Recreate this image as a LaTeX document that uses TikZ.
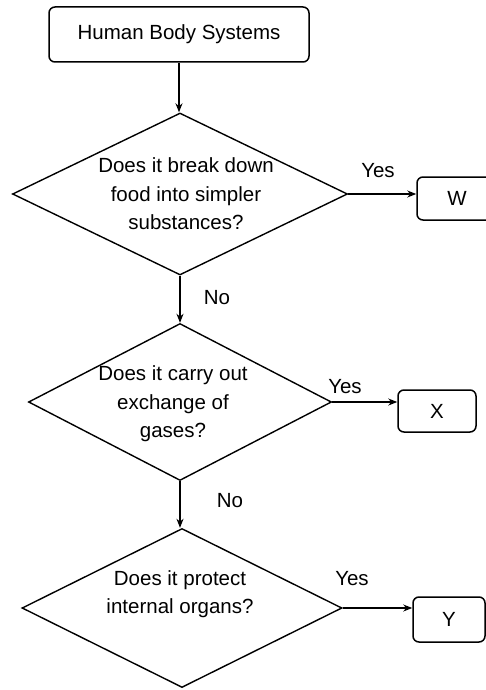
\documentclass[tikz,border=0pt]{standalone}
\usepackage{fontspec}
\setmainfont{Liberation Sans}
\usetikzlibrary{shapes.geometric,arrows.meta}
\begin{document}
\begin{tikzpicture}[x=1pt,y=-1pt,
  every node/.style={font=\fontsize{20.5}{28.5}\selectfont},
  rbox/.style={draw,line width=1.5pt,rounded corners=6pt,inner sep=0pt},
  decision/.style={draw,diamond,line width=1.4pt,inner sep=0pt},
  qtext/.style={inner sep=0pt,align=center},
  arr/.style={line width=1.3pt,-{Stealth[length=9pt,width=7pt]}},
  lbl/.style={inner sep=0pt}]
\useasboundingbox (0,0) rectangle (486,690);
\node[rbox,minimum width=260pt,minimum height=55pt] (top) at (179,34.5) {Human Body Systems};
\node[decision,minimum width=335pt,minimum height=162pt] (d1) at (180,194) {};
\node[decision,minimum width=303pt,minimum height=157pt] (d2) at (180,402) {};
\node[decision,minimum width=320pt,minimum height=159pt] (d3) at (182,608) {};
\node[qtext] (t1) at (186,194) {Does it break down\\food into simpler\\substances?};
\node[qtext] (t2) at (173,404) {Does it carry out\\exchange of\\gases?};
\node[qtext] (t3) at (180,594) {Does it protect\\internal organs?};
\node[rbox,minimum width=80pt,minimum height=43pt] (w) at (457,198.5) {W};
\node[rbox,minimum width=78pt,minimum height=42pt] (x) at (437,411) {X};
\node[rbox,minimum width=72pt,minimum height=45pt] (y) at (449,619.5) {Y};
\draw[arr] (top.south) -- (top.south |- d1.north);
\draw[arr] (d1.south) -- (d2.north);
\draw[arr] (d2.south) -- (d2.south |- d3.north);
\draw[arr] (d1.east) -- (w.west |- d1.east);
\draw[arr] (d2.east) -- (x.west |- d2.east);
\draw[arr] (d3.east) -- (y.west |- d3.east);
\node[lbl] (yes1) at (378,171) {Yes};
\node[lbl] (no1) at (217,298) {No};
\node[lbl] (yes2) at (345,387) {Yes};
\node[lbl] (no2) at (230,501) {No};
\node[lbl] (yes3) at (352,579) {Yes};
\end{tikzpicture}
\end{document}
